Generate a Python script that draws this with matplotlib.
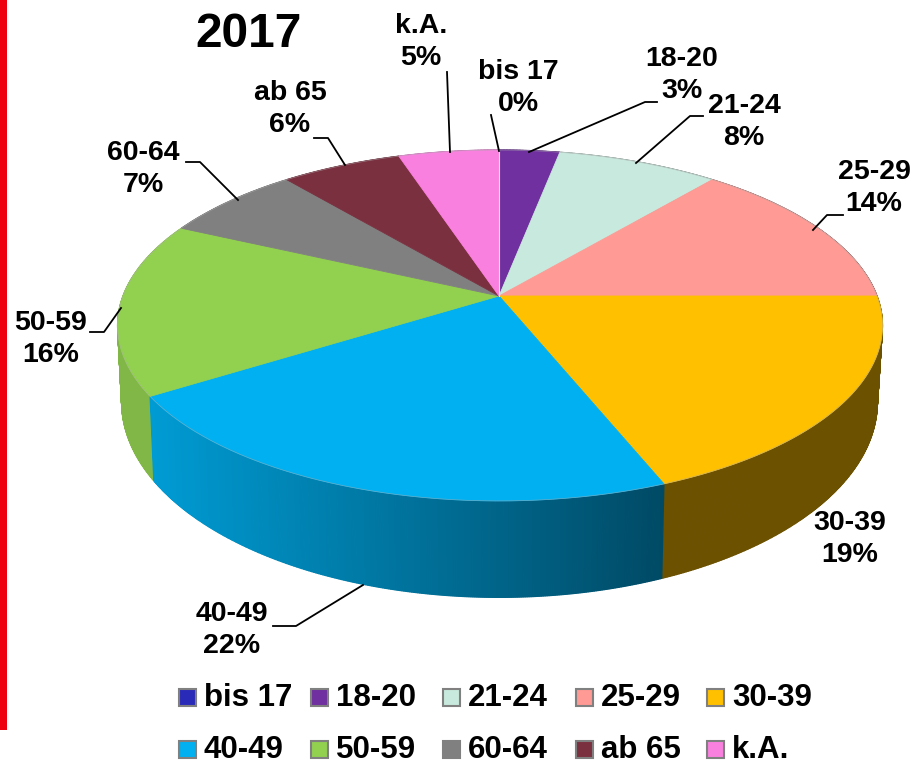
# -*- coding: utf-8 -*-
import numpy as np
import matplotlib
matplotlib.use('Agg')
import matplotlib.pyplot as plt
from matplotlib.colors import to_rgb
from matplotlib.patches import Rectangle

plt.rcParams['font.family'] = ['Liberation Sans', 'DejaVu Sans']

#%% data
categories = ['bis 17', '18-20', '21-24', '25-29', '30-39',
              '40-49', '50-59', '60-64', 'ab 65', 'k.A.']
values = [0, 3, 8, 14, 19, 22, 16, 7, 6, 5]
colors = ['#2A2AB8', '#7030A0', '#C8E9DD', '#FF9A94', '#FFC000',
          '#00B0F0', '#92D050', '#808080', '#7B3040', '#FA80E0']

# centre of the label, then the leader line, all in pixels of the picture
label_pos = [(518, 88), (682, 75), (744, 122), (874, 188), (850, 539),
             (232, 630), (51, 339), (143, 169), (290, 109), (421, 42)]
leaders = [[(491, 115), (499, 151)],
           [(657, 102), (645, 102), (529, 152)],
           [(703, 116), (690, 116), (636, 163)],
           [(843, 215), (827, 215), (813, 230)],
           None,
           [(273, 626), (296, 626), (363, 585)],
           [(90, 332), (104, 332), (121, 308)],
           [(186, 162), (200, 162), (238, 200)],
           [(314, 138), (328, 138), (345, 165)],
           [(447, 72), (450, 152)]]
legend_x = [179, 311, 443, 576, 707]
legend_y = [689, 741]

#%% projection of the tilted disc
k = 0.168


def top_xy(t):
    w = 1 + k * np.cos(t)
    s = np.sin(t)
    return 499 + np.where(s < 0, 376, 378) * s / w, 296 - 170.5 * np.cos(t) / w


def bottom_xy(t):
    w = 1 + k * np.cos(t)
    s = np.sin(t)
    return 499 + np.where(s < 0, 372, 373) * s / w, 369 - 190 * np.cos(t) / w


def side_shade(x):
    return np.clip(np.interp(x, [155, 663], [0.88, 0.42]), 0.42, 0.9)


#%%
fig = plt.figure(figsize=(9.13, 7.65), dpi=100)
ax = fig.add_axes([0, 0, 1, 1])
ax.set_xlim(0, 913)
ax.set_ylim(765, 0)
ax.axis('off')

ax.add_patch(Rectangle((0, 0), 6.5, 730, color='#EE0010', lw=0))

edges = np.cumsum([0] + values) / 100 * 2 * np.pi

# side wall, back to front
strips = []
for i, col in enumerate(colors):
    if values[i] == 0:
        continue
    n = max(int(values[i] * 14), 2)
    tt = np.linspace(edges[i], edges[i + 1], n + 1)
    for a, b in zip(tt[:-1], tt[1:]):
        strips.append((np.cos((a + b) / 2), a, b, col))
strips.sort(key=lambda s: -s[0])
for c, a, b, col in strips:
    x1, y1 = top_xy(np.array([a, b]))
    x2, y2 = bottom_xy(np.array([b, a]))
    shade = side_shade((x1.mean() + x2.mean()) / 2)
    rgb = tuple(v * shade for v in to_rgb(col))
    ax.fill(np.r_[x1, x2], np.r_[y1, y2], color=rgb, lw=0.9, zorder=2)

# top face
for i, col in enumerate(colors):
    if values[i] == 0:
        continue
    tt = np.linspace(edges[i], edges[i + 1], 120)
    x, y = top_xy(tt)
    ax.fill(np.r_[499, x], np.r_[296, y], facecolor=col, edgecolor=col, lw=0.6, zorder=3)

# thin outline of the top rim
tt = np.linspace(0, 2 * np.pi, 400)
x, y = top_xy(tt)
ax.plot(x, y, color='#B0B0B0', lw=0.5, alpha=0.6, zorder=4)
x, y = top_xy(np.array([0.0]))
ax.plot([499, x[0]], [296, y[0]], color='#E8E8E8', lw=0.8, zorder=4)

#%% labels
ax.text(249, 34, '2017', fontsize=34.5, fontweight='bold', ha='center', va='center')
for i, name in enumerate(categories):
    lx, ly = label_pos[i]
    ax.text(lx, ly, name + '\n' + str(values[i]) + '%', fontsize=20.5, fontweight='bold',
            ha='center', va='center', linespacing=1.27, zorder=6)
    if leaders[i] is not None:
        px, py = zip(*leaders[i])
        ax.plot(px, py, color='black', lw=1.3, zorder=5)

#%% legend
for i, name in enumerate(categories):
    mx = legend_x[i % 5]
    my = legend_y[i // 5]
    ax.add_patch(Rectangle((mx, my), 17, 17, facecolor=colors[i], edgecolor='#808080', lw=1.5))
    ax.text(mx + 25, my + 9, name, fontsize=22.5, fontweight='bold', ha='left', va='center')

fig.savefig('out.png', dpi=100)
